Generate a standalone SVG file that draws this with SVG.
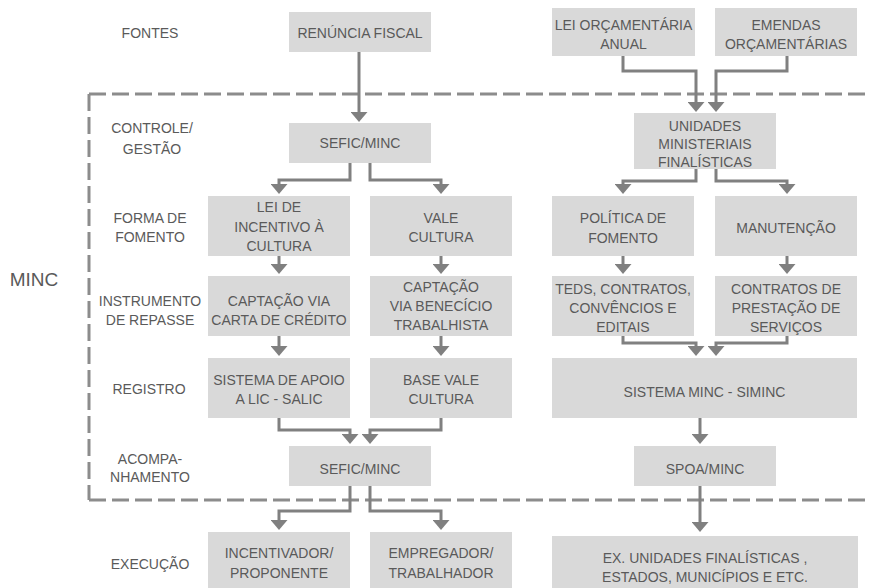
<svg xmlns="http://www.w3.org/2000/svg" width="871" height="588" viewBox="0 0 871 588">
<style>
.box{fill:#d9d9d9}
text{font-family:"Liberation Sans",Arial,sans-serif;font-size:14px;fill:#5a5a5a;text-anchor:middle}
.lbl{font-size:14px}
.big{font-size:19px}
.conn{fill:none;stroke:#808080;stroke-width:3;marker-end:url(#arr)}
.dash{fill:none;stroke:#8c8c8c;stroke-width:3;stroke-dasharray:17 6}
</style>
<defs>
<marker id="arr" viewBox="0 0 10 17" markerWidth="10" markerHeight="17" refX="2" refY="8.5" markerUnits="userSpaceOnUse" orient="auto">
<path d="M0,0 L10,8.5 L0,17 Z" fill="#808080"/>
</marker>
</defs>
<rect width="871" height="588" fill="#ffffff"/>

<g id="border">
<path class="dash" d="M89,94 H871"/>
<path class="dash" d="M89,94 V500"/>
<path class="dash" d="M89,500 H871"/>
</g>

<g id="labels">
<text class="lbl" x="150" y="37.5">FONTES</text>
<text class="lbl" x="152" y="132.5">CONTROLE/</text>
<text class="lbl" x="152" y="153.5">GESTÃO</text>
<text class="lbl" x="150" y="223">FORMA DE</text>
<text class="lbl" x="150" y="242">FOMENTO</text>
<text class="big" x="34" y="286">MINC</text>
<text class="lbl" x="150" y="305.5">INSTRUMENTO</text>
<text class="lbl" x="150" y="325">DE REPASSE</text>
<text class="lbl" x="149" y="393.5">REGISTRO</text>
<text class="lbl" x="150" y="463.5">ACOMPA-</text>
<text class="lbl" x="150" y="482">NHAMENTO</text>
<text class="lbl" x="150" y="568.5">EXECUÇÃO</text>
</g>

<g id="connectors">
<path class="conn" d="M359,52 V114"/>
<path class="conn" d="M623,56 V71 H696 V104"/>
<path class="conn" d="M787,56 V71 H716 V104"/>
<path class="conn" d="M696,169 V181 H623 V186"/>
<path class="conn" d="M716,169 V181 H787 V186"/>
<path class="conn" d="M350,163 V180 H279 V186"/>
<path class="conn" d="M370,163 V180 H441 V186"/>
<path class="conn" d="M279,256 V266"/>
<path class="conn" d="M441,256 V266"/>
<path class="conn" d="M623,256 V266"/>
<path class="conn" d="M787,256 V266"/>
<path class="conn" d="M279,336 V348"/>
<path class="conn" d="M441,336 V348"/>
<path class="conn" d="M623,336 V343 H696 V348"/>
<path class="conn" d="M787,336 V343 H716 V348"/>
<path class="conn" d="M279,418 V430 H350 V436"/>
<path class="conn" d="M441,418 V430 H370 V436"/>
<path class="conn" d="M700,418 V436"/>
<path class="conn" d="M350,486 V511 H279 V522"/>
<path class="conn" d="M370,486 V511 H441 V522"/>
<path class="conn" d="M700,486 V524"/>
</g>

<g id="renuncia">
<rect class="box" x="289" y="12" width="142" height="40"/>
<text x="360" y="38">RENÚNCIA FISCAL</text>
</g>
<g id="lei-orcamentaria">
<rect class="box" x="552" y="8" width="143" height="48"/>
<text x="623.5" y="30">LEI ORÇAMENTÁRIA</text>
<text x="623.5" y="49">ANUAL</text>
</g>
<g id="emendas">
<rect class="box" x="715" y="8" width="142" height="48"/>
<text x="786" y="30">EMENDAS</text>
<text x="786" y="49">ORÇAMENTÁRIAS</text>
</g>
<g id="sefic-top">
<rect class="box" x="289" y="123" width="142" height="40"/>
<text x="360" y="148">SEFIC/MINC</text>
</g>
<g id="unidades">
<rect class="box" x="634" y="113" width="142" height="56"/>
<text x="705" y="130.5">UNIDADES</text>
<text x="705" y="149">MINISTERIAIS</text>
<text x="705" y="167">FINALÍSTICAS</text>
</g>
<g id="lei-incentivo">
<rect class="box" x="208" y="196" width="142" height="60"/>
<text x="279" y="212">LEI DE</text>
<text x="279" y="231.5">INCENTIVO À</text>
<text x="279" y="250.5">CULTURA</text>
</g>
<g id="vale-cultura">
<rect class="box" x="370" y="196" width="142" height="60"/>
<text x="441" y="222.5">VALE</text>
<text x="441" y="242">CULTURA</text>
</g>
<g id="politica">
<rect class="box" x="552" y="196" width="142" height="60"/>
<text x="623" y="223">POLÍTICA DE</text>
<text x="623" y="242.5">FOMENTO</text>
</g>
<g id="manutencao">
<rect class="box" x="715" y="196" width="142" height="60"/>
<text x="786" y="232.5">MANUTENÇÃO</text>
</g>
<g id="captacao-carta">
<rect class="box" x="208" y="276" width="142" height="60"/>
<text x="279" y="305.5">CAPTAÇÃO VIA</text>
<text x="279" y="325">CARTA DE CRÉDITO</text>
</g>
<g id="captacao-beneficio">
<rect class="box" x="370" y="276" width="142" height="60"/>
<text x="441" y="291.5">CAPTAÇÃO</text>
<text x="441" y="311">VIA BENECÍCIO</text>
<text x="441" y="330">TRABALHISTA</text>
</g>
<g id="teds">
<rect class="box" x="552" y="276" width="142" height="60"/>
<text x="623" y="294">TEDS, CONTRATOS,</text>
<text x="623" y="313">CONVÊNCIOS E</text>
<text x="623" y="331.5">EDITAIS</text>
</g>
<g id="contratos">
<rect class="box" x="715" y="276" width="142" height="60"/>
<text x="786" y="294">CONTRATOS DE</text>
<text x="786" y="313">PRESTAÇÃO DE</text>
<text x="786" y="331.5">SERVIÇOS</text>
</g>
<g id="salic">
<rect class="box" x="208" y="358" width="142" height="60"/>
<text x="279" y="385">SISTEMA DE APOIO</text>
<text x="279" y="404">A LIC - SALIC</text>
</g>
<g id="base-vale">
<rect class="box" x="370" y="358" width="142" height="60"/>
<text x="441" y="385">BASE VALE</text>
<text x="441" y="404">CULTURA</text>
</g>
<g id="siminc">
<rect class="box" x="552" y="358" width="305" height="60"/>
<text x="704.5" y="396.5">SISTEMA MINC - SIMINC</text>
</g>
<g id="sefic-bottom">
<rect class="box" x="289" y="446" width="142" height="40"/>
<text x="360" y="474">SEFIC/MINC</text>
</g>
<g id="spoa">
<rect class="box" x="634" y="446" width="142" height="40"/>
<text x="705" y="473.5">SPOA/MINC</text>
</g>
<g id="incentivador">
<rect class="box" x="208" y="532" width="142" height="56"/>
<text x="279" y="558">INCENTIVADOR/</text>
<text x="279" y="578">PROPONENTE</text>
</g>
<g id="empregador">
<rect class="box" x="370" y="532" width="142" height="56"/>
<text x="441" y="558">EMPREGADOR/</text>
<text x="441" y="578">TRABALHADOR</text>
</g>
<g id="executores">
<rect class="box" x="552" y="536" width="306" height="52"/>
<text x="705" y="563">EX. UNIDADES FINALÍSTICAS ,</text>
<text x="705" y="581.5">ESTADOS, MUNICÍPIOS E ETC.</text>
</g>
</svg>
